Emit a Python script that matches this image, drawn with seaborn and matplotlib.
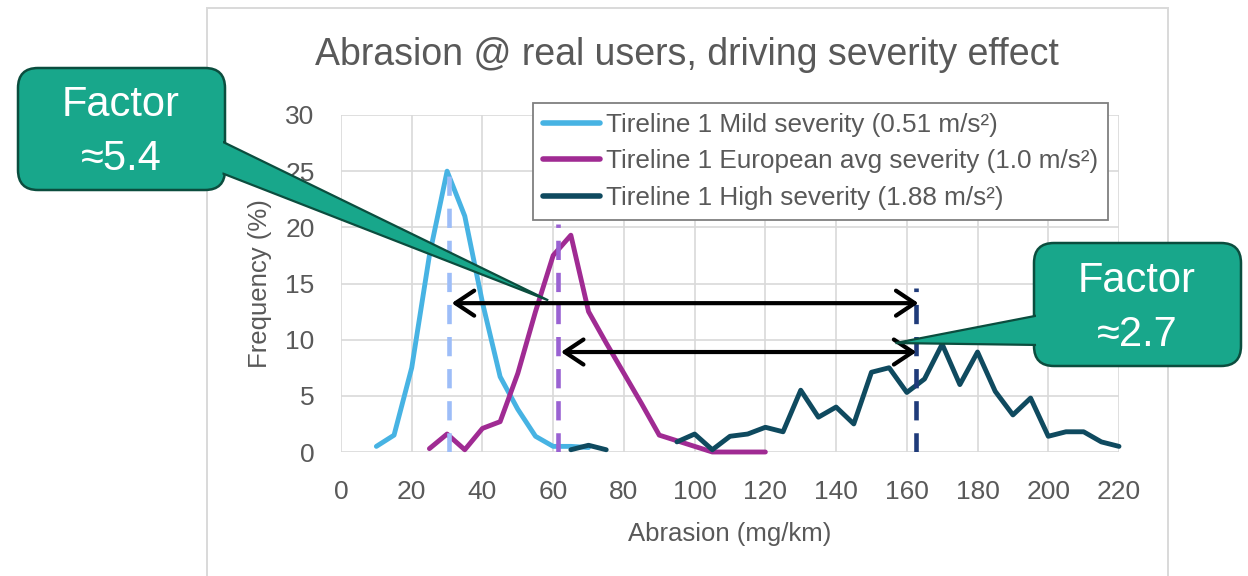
import matplotlib
matplotlib.use("Agg")
import matplotlib.pyplot as plt
import pandas as pd
import seaborn as sns
from matplotlib.patches import FancyBboxPatch, Polygon, Rectangle

W, H = 1248, 576

# abrasion class (mg/km) -> frequency (%)
MILD_X = [10, 15, 20, 25, 30, 35, 40, 45, 50, 55, 60, 65, 70]
MILD_Y = [0.5, 1.5, 7.5, 17.5, 25.0, 21.0, 13.3, 6.7, 3.8, 1.4, 0.5, 0.5, 0.4]

EURO_X = list(range(25, 125, 5))
EURO_Y = [0.3, 1.6, 0.2, 2.1, 2.7, 7.0, 12.5, 17.5, 19.3, 12.5,
          9.7, 7.0, 4.3, 1.5, 1.0, 0.5, 0.0, 0.0, 0.0, 0.0]

# high severity has a small isolated segment, then a gap
HIGH_X_LOW = [65, 70, 75]
HIGH_Y_LOW = [0.2, 0.6, 0.2]
HIGH_X = list(range(95, 225, 5))
HIGH_Y = [0.9, 1.6, 0.2, 1.4, 1.6, 2.2, 1.8, 5.5, 3.1, 4.0,
          2.5, 7.1, 7.5, 5.3, 6.5, 9.6, 6.0, 8.9, 5.4, 3.3,
          4.8, 1.4, 1.8, 1.8, 0.9, 0.5]

SERIES = [
    "Tireline 1 Mild severity (0.51 m/s²)",
    "Tireline 1 European avg severity (1.0 m/s²)",
    "Tireline 1 High severity (1.88 m/s²)",
]
COLORS = ["#47b3e3", "#a02b93", "#0f4a5f"]

# median markers (dashed verticals)
MEDIAN_X = [30.6, 61.4, 162.7]
MEDIAN_TOP = [24.8, 20.3, 14.6]
MEDIAN_COLORS = ["#9dbdf8", "#9a62d2", "#1f3b7a"]

# double arrows between medians
ARROW_FROM = [31.3, 62.2]
ARROW_TO = [163.3, 162.7]
ARROW_Y = [13.25, 8.9]

FACTOR_TEXT = ["Factor\n≈5.4", "Factor\n≈2.7"]
FACTOR_TIP = [(58.6, 13.5), (156.8, 9.7)]

TITLE = "Abrasion @ real users, driving severity effect"
GRAY = "#595959"
TEAL = "#18a78b"
TEAL_EDGE = "#0b4d3e"

sns.set_theme(style="whitegrid")
plt.rcParams["font.family"] = ["Liberation Sans", "DejaVu Sans"]

fig = plt.figure(figsize=(W / 100, H / 100), dpi=100)
fig.patch.set_facecolor("white")

# excel chart-area frame, runs off the bottom of the slide
fig.add_artist(Rectangle((207 / W, -0.05), (1168 - 207) / W, 1.05 - 8 / H,
                         transform=fig.transFigure, fill=False,
                         ec="#d9d9d9", lw=1.4, zorder=0))

ax = fig.add_axes([341 / W, 1 - 452 / H, (1119 - 341) / W, (452 - 115) / H])
ax.set_facecolor("white")

df = pd.concat([
    pd.DataFrame({"abrasion": MILD_X, "freq": MILD_Y, "series": SERIES[0], "segment": 0}),
    pd.DataFrame({"abrasion": EURO_X, "freq": EURO_Y, "series": SERIES[1], "segment": 0}),
    pd.DataFrame({"abrasion": HIGH_X_LOW, "freq": HIGH_Y_LOW, "series": SERIES[2], "segment": 0}),
    pd.DataFrame({"abrasion": HIGH_X, "freq": HIGH_Y, "series": SERIES[2], "segment": 1}),
], ignore_index=True)

sns.lineplot(data=df, x="abrasion", y="freq", hue="series", hue_order=SERIES,
             palette=dict(zip(SERIES, COLORS)), units="segment", estimator=None,
             linewidth=3.5, ax=ax)
for line in ax.lines:
    line.set_clip_on(False)
    line.set_solid_joinstyle("round")
    line.set_solid_capstyle("round")

ax.vlines(MEDIAN_X, 0, MEDIAN_TOP, colors=MEDIAN_COLORS, linewidth=3.3,
          linestyles=[(0, (4.2, 2.8))], zorder=4)

for x0, x1, y in zip(ARROW_FROM, ARROW_TO, ARROW_Y):
    ax.annotate("", xy=(x0, y), xytext=(x1, y), zorder=6,
                arrowprops=dict(arrowstyle="<->,head_length=0.45,head_width=0.3",
                                color="black", lw=3, shrinkA=0, shrinkB=0,
                                mutation_scale=30))

ax.set_xlim(0, 220)
ax.set_ylim(0, 30)
ax.set_xticks(range(0, 221, 20))
ax.set_yticks(range(0, 31, 5))
ax.grid(True, color="#d9d9d9", linewidth=1.2)
ax.set_axisbelow(True)
for s in ax.spines.values():
    s.set_visible(False)
ax.tick_params(length=0, labelsize=19, colors=GRAY)
ax.tick_params(axis="x", pad=20)
ax.tick_params(axis="y", pad=19)

ax.set_xlabel("Abrasion (mg/km)", fontsize=18.5, color=GRAY)
ax.xaxis.label.set_va("center")
ax.xaxis.set_label_coords(0.5, (452 - 534) / 337)
ax.set_ylabel("Frequency (%)", fontsize=18.5, color=GRAY)
ax.yaxis.label.set_va("center")
ax.yaxis.set_label_coords((260 - 341) / 778, 0.5)

handles, labels = ax.get_legend_handles_labels()
leg = ax.legend(handles, labels, loc="upper left",
                bbox_to_anchor=(533 / W, 1 - 103 / H), bbox_transform=fig.transFigure,
                borderaxespad=0, frameon=True, fancybox=False, edgecolor="#7f7f7f",
                framealpha=1, fontsize=18.8, handlelength=2.2, handletextpad=0.2,
                labelspacing=0.48, borderpad=0.38)
leg.get_frame().set_linewidth(1.3)
for t in leg.get_texts():
    t.set_color(GRAY)
for l in leg.get_lines():
    l.set_linewidth(4)
leg.set_zorder(10)

fig.text(687 / W, 1 - 55 / H, TITLE, ha="center", va="center", fontsize=27, color=GRAY)


# callouts, laid out in slide pixels (converted to inches)
def px(x, y):
    return (x / 100, (H - y) / 100)


BOXES = [(18, 68, 225, 190), (1034, 243, 1241, 366)]
BASES = [((219, 140), (219, 172)), ((1040, 315), (1040, 345))]
TEXT_POS = [(121, 132), (1137, 308)]

inv = fig.dpi_scale_trans.inverted()
for (x0, y0, x1, y1), (b1, b2), tip, txt, tpos in zip(BOXES, BASES, FACTOR_TIP, FACTOR_TEXT, TEXT_POS):
    tip_in = inv.transform(ax.transData.transform(tip))
    box_kw = dict(boxstyle="round,pad=0,rounding_size=0.2", transform=fig.dpi_scale_trans)
    fig.add_artist(FancyBboxPatch(px(x0, y1), (x1 - x0) / 100, (y1 - y0) / 100,
                                  fc=TEAL, ec=TEAL_EDGE, lw=1.8, zorder=4, **box_kw))
    fig.add_artist(Polygon([px(*b1), tuple(tip_in), px(*b2)], closed=True,
                           transform=fig.dpi_scale_trans, fc=TEAL, ec=TEAL_EDGE,
                           lw=1.6, joinstyle="miter", zorder=5))
    # cover the pointer's inner edges so it merges with the box
    fig.add_artist(FancyBboxPatch(px(x0 + 2, y1 - 2), (x1 - x0 - 4) / 100, (y1 - y0 - 4) / 100,
                                  fc=TEAL, ec="none", zorder=6, **box_kw))
    fig.text(tpos[0] / W, 1 - tpos[1] / H, txt, ha="center", va="center",
             fontsize=30, color="white", linespacing=1.42, zorder=7)

fig.savefig("out.png", dpi=100, facecolor="white")
